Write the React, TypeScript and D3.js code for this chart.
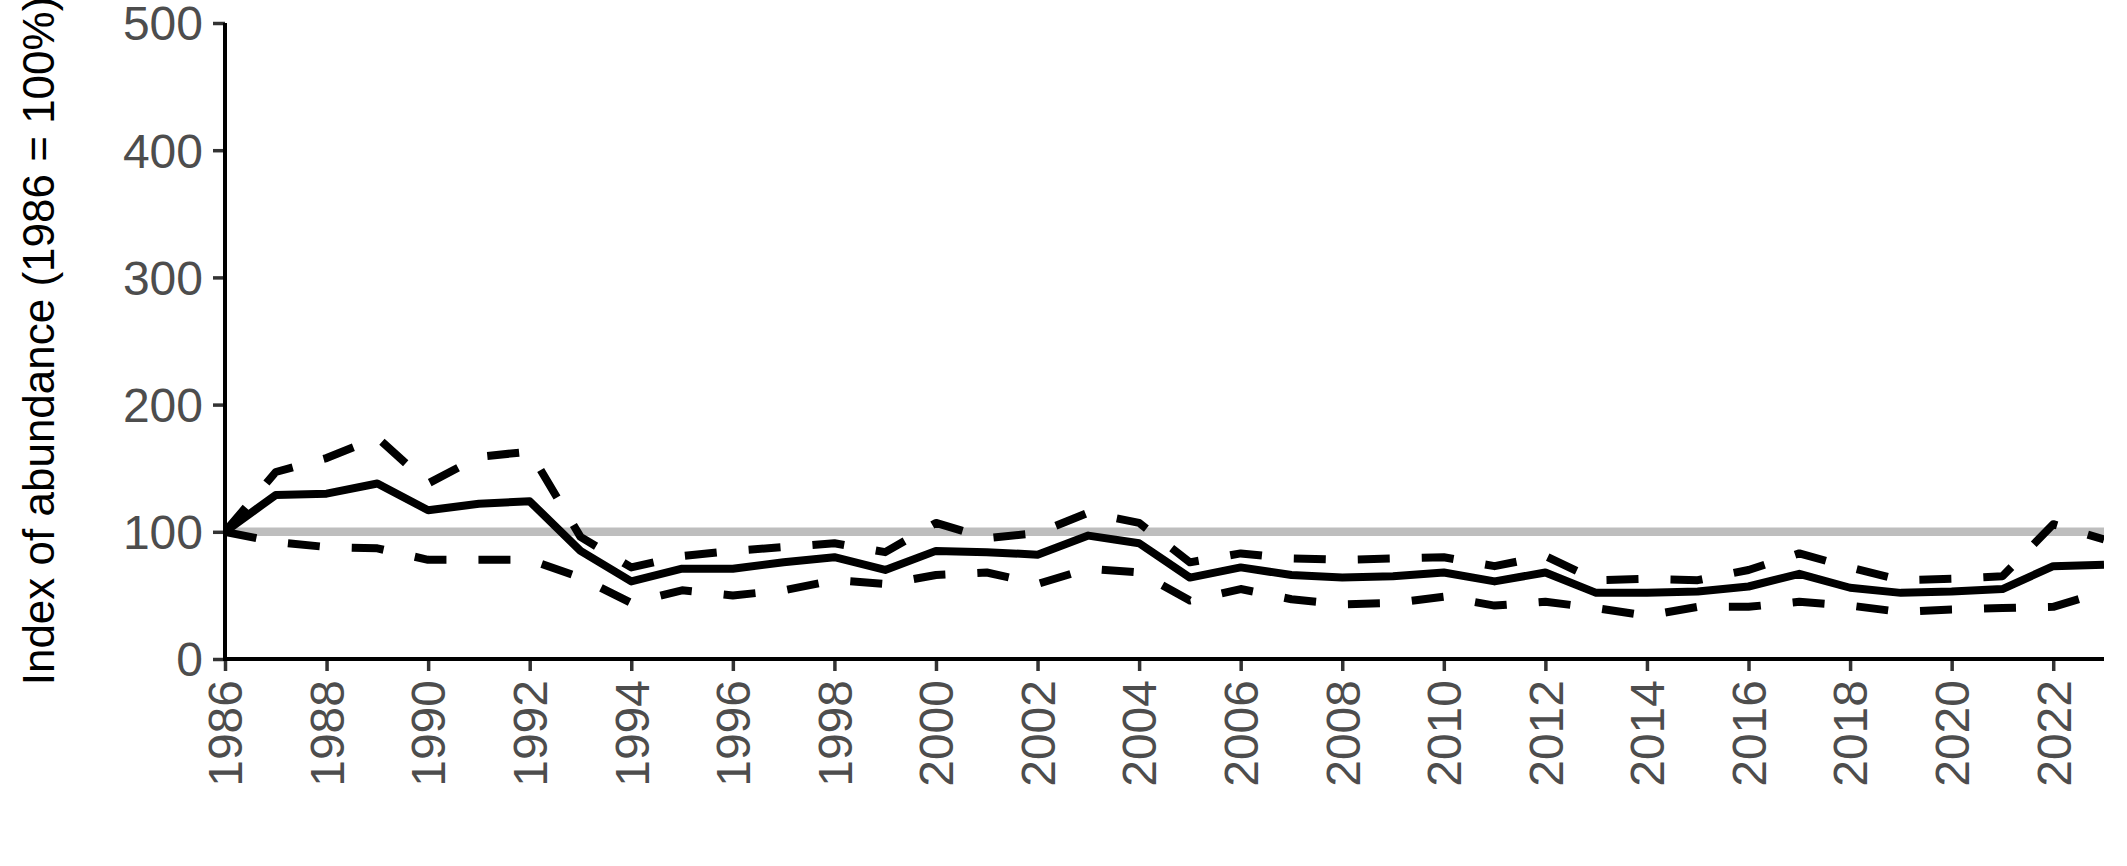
import React, { useEffect, useRef } from 'react'
import * as d3 from 'd3'

// years on the x axis
const years = [
	1986, 1987, 1988, 1989, 1990, 1991, 1992, 1993, 1994, 1995,
	1996, 1997, 1998, 1999, 2000, 2001, 2002, 2003, 2004, 2005,
	2006, 2007, 2008, 2009, 2010, 2011, 2012, 2013, 2014, 2015,
	2016, 2017, 2018, 2019, 2020, 2021, 2022, 2023,
]

// index of abundance (solid line)
const index = [
	100, 129, 130, 138, 117, 122, 124, 85, 61, 71,
	71, 76, 80, 70, 85, 84, 82, 97, 91, 64,
	72, 66, 64, 65, 68, 61, 68, 52, 52, 53,
	57, 67, 56, 52, 53, 55, 73, 74,
]

// upper confidence limit (dashed)
const upper = [
	100, 147, 158, 174, 138, 159, 163, 96, 72, 81,
	85, 88, 91, 84, 107, 95, 99, 115, 107, 76,
	83, 79, 78, 79, 80, 73, 81, 62, 63, 62,
	70, 83, 72, 62, 63, 65, 106, 94,
]

// lower confidence limit (dashed)
const lower = [
	100, 92, 88, 87, 78, 78, 78, 64, 44, 54,
	50, 54, 62, 59, 66, 68, 59, 71, 68, 46,
	55, 47, 43, 44, 49, 42, 45, 40, 34, 41,
	41, 45, 42, 37, 39, 40, 41, 53,
]

const yTicks = [0, 100, 200, 300, 400, 500]
const xTicks = [1986, 1988, 1990, 1992, 1994, 1996, 1998, 2000, 2002, 2004, 2006, 2008, 2010, 2012, 2014, 2016, 2018, 2020, 2022]
const yTitle = 'Index of abundance (1986 = 100%)'

export default function App() {
	const ref = useRef<SVGSVGElement>(null)

	const width = 2127
	const height = 866
	const margin = { top: 23, right: 23, bottom: 207, left: 225 }
	const font = '"Liberation Sans", Arial, sans-serif'

	useEffect(() => {
		const svg = d3.select(ref.current)
		svg.selectAll('*').remove()

		const x = d3.scaleLinear()
			.domain([1986, 2023])
			.range([margin.left, width - margin.right])
		const y = d3.scaleLinear()
			.domain([0, 500])
			.range([height - margin.bottom, margin.top])

		// clip lines to the panel
		svg.append('clipPath')
			.attr('id', 'panel-clip')
			.append('rect')
			.attr('x', x(1986))
			.attr('y', y(500))
			.attr('width', x(2023) - x(1986))
			.attr('height', y(0) - y(500))

		const panel = svg.append('g').attr('clip-path', 'url(#panel-clip)')

		// reference line at 100
		panel.append('line')
			.attr('x1', x(1986))
			.attr('x2', x(2023))
			.attr('y1', y(100))
			.attr('y2', y(100))
			.attr('stroke', '#bebebe')
			.attr('stroke-width', 8.5)

		const line = (vals: number[]) => d3.line<number>()
			.x((_, i) => x(years[i]))
			.y((d) => y(d))(vals)

		// confidence limits
		;[upper, lower].forEach((vals) => {
			panel.append('path')
				.attr('d', line(vals))
				.attr('fill', 'none')
				.attr('stroke', '#000')
				.attr('stroke-width', 8)
				.attr('stroke-dasharray', '32 32')
				.attr('stroke-linejoin', 'round')
		})

		// index
		panel.append('path')
			.attr('d', line(index))
			.attr('fill', 'none')
			.attr('stroke', '#000')
			.attr('stroke-width', 8)
			.attr('stroke-linejoin', 'round')

		// y axis
		const yAxis = svg.append('g')
			.attr('transform', `translate(${x(1986)},0)`)
			.call(d3.axisLeft(y).tickValues(yTicks).tickSize(12).tickPadding(10).tickFormat(d3.format('d')))
		yAxis.select('.domain').remove()
		yAxis.selectAll('.tick line').attr('stroke', '#333333').attr('stroke-width', 3.5)
		yAxis.selectAll('.tick text')
			.attr('fill', '#4d4d4d')
			.style('font-family', font)
			.style('font-size', '48px')
			.attr('dy', '0.35em')

		// x axis
		const xAxis = svg.append('g')
			.attr('transform', `translate(0,${y(0)})`)
			.call(d3.axisBottom(x).tickValues(xTicks).tickSize(12).tickFormat(d3.format('d')))
		xAxis.select('.domain').remove()
		xAxis.selectAll('.tick line').attr('stroke', '#333333').attr('stroke-width', 3.5)
		xAxis.selectAll('.tick text')
			.attr('fill', '#4d4d4d')
			.style('font-family', font)
			.style('font-size', '48px')
			.attr('text-anchor', 'end')
			.attr('transform', 'rotate(-90)')
			.attr('x', -21)
			.attr('y', 0)
			.attr('dy', '0.35em')

		// axis lines
		svg.append('line')
			.attr('x1', x(1986)).attr('x2', x(1986))
			.attr('y1', y(500)).attr('y2', y(0) + 2)
			.attr('stroke', '#000').attr('stroke-width', 4)
		svg.append('line')
			.attr('x1', x(1986) - 2).attr('x2', x(2023))
			.attr('y1', y(0)).attr('y2', y(0))
			.attr('stroke', '#000').attr('stroke-width', 4)

		// y title
		svg.append('text')
			.attr('transform', `translate(53.5,${(y(0) + y(500)) / 2}) rotate(-90)`)
			.attr('text-anchor', 'middle')
			.style('font-family', font)
			.style('font-size', '44px')
			.attr('fill', '#000')
			.text(yTitle)
	// eslint-disable-next-line react-hooks/exhaustive-deps
	}, [])

	return (
		<svg
			ref={ref}
			width={width}
			height={height}
			style={{ position: 'absolute', left: 0, top: 0, background: '#fff' }}
		/>
	)
}
